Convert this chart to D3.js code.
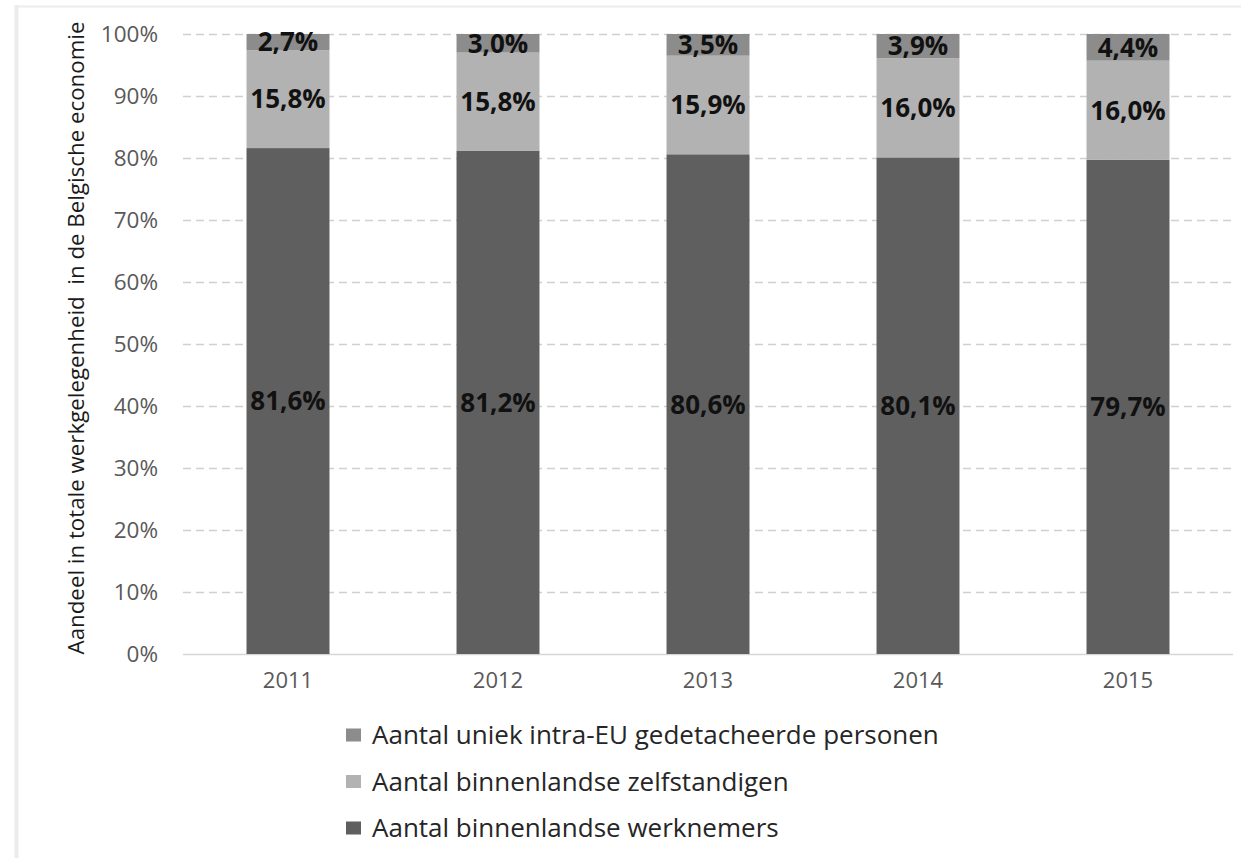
<!DOCTYPE html>
<html><head><meta charset="utf-8">
<script src="https://cdn.jsdelivr.net/npm/d3@7"></script>
<style>body{margin:0;background:#fff;} svg{display:block;}</style>
</head><body>
<svg id="c" width="1241" height="858"></svg>
<script>
const years = ["2011","2012","2013","2014","2015"];
const werknemers = [81.6, 81.2, 80.6, 80.1, 79.7];
const zelfstandigen = [15.8, 15.8, 15.9, 16.0, 16.0];
const gedetacheerden = [2.7, 3.0, 3.5, 3.9, 4.4];
const yTicks = [0,10,20,30,40,50,60,70,80,90,100];
const seriesNames = ["Aantal binnenlandse werknemers","Aantal binnenlandse zelfstandigen","Aantal uniek intra-EU gedetacheerde personen"];
const seriesKeys = ["w","z","g"];
const colors = {w:"#5f5f5f", z:"#b2b2b2", g:"#8c8c8c"};
const yTitle = "Aandeel in totale werkgelegenheid  in de Belgische economie";

const data = years.map((y,i)=>({year:y, w:werknemers[i], z:zelfstandigen[i], g:gedetacheerden[i]}));
const svg = d3.select("#c");
const font = "'Open Sans', sans-serif";

// frame
svg.append("line").attr("x1",16.5).attr("x2",16.5).attr("y1",5).attr("y2",858).attr("stroke","#ececec").attr("stroke-width",4);
svg.append("line").attr("x1",15).attr("x2",1241).attr("y1",6.5).attr("y2",6.5).attr("stroke","#ececec").attr("stroke-width",2);

const x = d3.scaleBand().domain(years).range([183,1233]).paddingInner(0.605).paddingOuter(0.3025);
const y = d3.scaleLinear().domain([0,100]).range([654,34]);

// gridlines
svg.append("g").selectAll("line").data(yTicks.filter(t=>t>0)).join("line")
  .attr("x1",183).attr("x2",1233).attr("y1",d=>y(d)+0.5).attr("y2",d=>y(d)+0.5)
  .attr("stroke","#d0d0d0").attr("stroke-width",1.3).attr("stroke-dasharray","8,5");
svg.append("line").attr("x1",183).attr("x2",1233).attr("y1",y(0)+0.5).attr("y2",y(0)+0.5).attr("stroke","#d6d6d6").attr("stroke-width",1.5);

// y axis labels
const yAxis = d3.axisLeft(y).tickValues(yTicks).tickFormat(d=>d+"%").tickSize(0).tickPadding(0);
const ga = svg.append("g").attr("transform","translate(158,0)").call(yAxis);
ga.select(".domain").remove();
ga.selectAll("text").attr("font-family",font).attr("font-size",22.5).attr("fill","#595959").attr("dy","0.35em");

// x axis labels
const xAxis = d3.axisBottom(x).tickSize(0).tickPadding(0);
const gx = svg.append("g").attr("transform","translate(0,672)").call(xAxis);
gx.select(".domain").remove();
gx.selectAll("text").attr("font-family",font).attr("font-size",22).attr("fill","#595959").attr("dy","0.71em");

// stack
const stack = d3.stack().keys(seriesKeys)(data);
const layers = svg.append("g").selectAll("g").data(stack).join("g").attr("fill",d=>colors[d.key]);
layers.selectAll("rect").data(d=>d).join("rect")
  .attr("x",d=>x(d.data.year)).attr("width",x.bandwidth())
  .attr("y",d=>y(Math.min(d[1],100))).attr("height",d=>y(d[0])-y(Math.min(d[1],100)));

// labels
const fmt = v => v.toFixed(1).replace(".",",")+"%";
const lab = svg.append("g");
stack.forEach(layer=>{
  lab.selectAll(null).data(layer).join("text")
    .attr("x",d=>x(d.data.year)+x.bandwidth()/2)
    .attr("y",d=>y((d[0]+Math.min(d[1],100))/2))
    .attr("dy","0.36em")
    .attr("text-anchor","middle").attr("font-family",font).attr("font-weight","bold")
    .attr("font-size",26).attr("fill","#111")
    .text(d=>fmt(d.data[layer.key]));
});

// y title
svg.append("text").attr("transform","translate(84,338) rotate(-90)")
  .attr("text-anchor","middle").attr("font-family",font).attr("font-size",22.3).attr("fill","#1a1a1a")
  .attr("xml:space","preserve").style("white-space","pre").text(yTitle);

// legend
const legendOrder = ["g","z","w"];
const lg = svg.append("g");
legendOrder.forEach((k,i)=>{
  const yy = 735 + i*46.5;
  lg.append("rect").attr("x",346).attr("y",yy-6.5).attr("width",15).attr("height",13).attr("fill",colors[k]);
  lg.append("text").attr("x",372).attr("y",yy).attr("dy","0.35em").attr("font-family",font).attr("font-size",26).attr("fill","#262626")
    .text(seriesNames[seriesKeys.indexOf(k)]);
});
</script>
</body></html>
